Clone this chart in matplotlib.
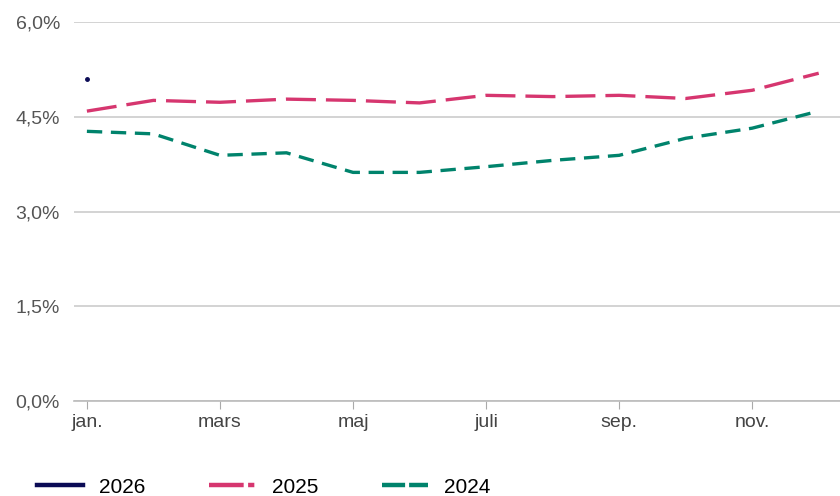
import matplotlib.pyplot as plt
from matplotlib.ticker import FuncFormatter

plt.rcParams['font.family'] = ['Liberation Sans', 'DejaVu Sans']

months = ['jan.', 'feb.', 'mars', 'april', 'maj', 'juni',
          'juli', 'aug.', 'sep.', 'okt.', 'nov.', 'dec.']

v2026 = [5.10]
v2025 = [4.59, 4.76, 4.73, 4.78, 4.76, 4.72, 4.84, 4.82, 4.84, 4.79, 4.92, 5.19]
v2024 = [4.27, 4.23, 3.89, 3.93, 3.62, 3.62, 3.71, 3.81, 3.89, 4.16, 4.32, 4.59]

yticks = [0, 1.5, 3.0, 4.5, 6.0]

fig = plt.figure(figsize=(8.4, 4.96), dpi=100)
ax = fig.add_axes([0.088, 0.1915, 0.912, 0.764])

x = list(range(12))
ax.plot(x[:len(v2026)], v2026, color='#0b0b55', lw=2.2, marker='o', ms=2.5, label='2026')
ax.plot(x, v2025, color='#d6366f', lw=2.4, dashes=(9, 3), dash_joinstyle='round', label='2025')
ax.plot(x, v2024, color='#00836c', lw=2.4, dashes=(4.6, 2.6), dash_joinstyle='round', label='2024')

ax.set_xlim(-0.195, 11.32)
ax.set_ylim(0, 6.0)
ax.set_yticks(yticks)
ax.yaxis.set_major_formatter(FuncFormatter(lambda v, p: ('%.1f%%' % v).replace('.', ',')))
ax.set_xticks(x[::2])
ax.set_xticklabels(months[::2])

for s in ['top', 'right', 'left']:
    ax.spines[s].set_visible(False)
ax.spines['bottom'].set_color('#bbbbbb')
ax.spines['bottom'].set_linewidth(1.2)
ax.grid(axis='y', color='#d0d0d0', lw=1.3)
ax.set_axisbelow(True)
ax.tick_params(axis='y', length=0, pad=10, labelsize=14, labelcolor='#555555')
ax.tick_params(axis='x', length=6, color='#aaaaaa', pad=3, labelsize=14, labelcolor='#444444')

leg_handles = [plt.Line2D([], [], color='#0b0b55', lw=3.2),
               plt.Line2D([], [], color='#d6366f', lw=3.2, dashes=(7.8, 1, 1.4, 1)),
               plt.Line2D([], [], color='#00836c', lw=3.2, dashes=(5.2, 0.9))]
fig.legend(leg_handles, ['2026', '2025', '2024'], loc='center left',
           bbox_to_anchor=(0.034, 0.018), ncol=3, frameon=False, borderaxespad=0,
           fontsize=15, handlelength=2.2, handletextpad=0.8, columnspacing=3.05)

fig.savefig('out.png', dpi=100)
